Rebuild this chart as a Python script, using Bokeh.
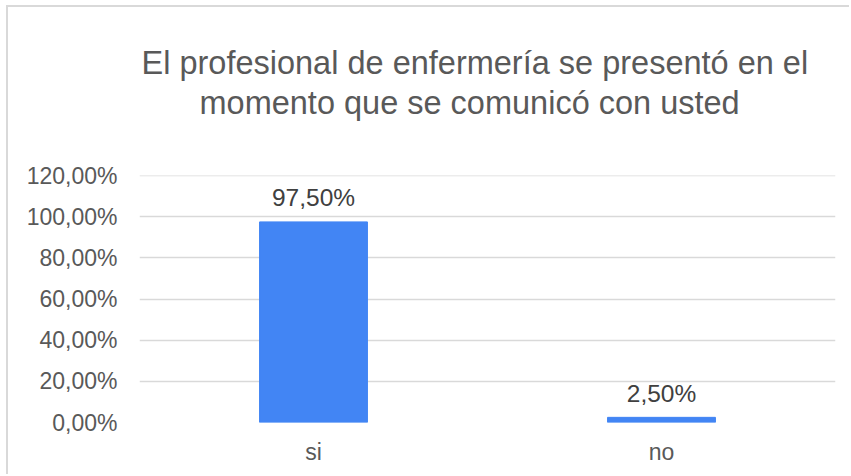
from bokeh.plotting import figure
from bokeh.models import ColumnDataSource, FixedTicker, CustomJSTickFormatter, FactorRange, Range1d, Title
from bokeh.core.properties import value
from bokeh.embed import file_html
from bokeh.resources import INLINE

categories = ["si", "no"]
values = [0.975, 0.025]
labels = [f"{v*100:.2f}".replace(".", ",") + "%" for v in values]
y_ticks = [0, 0.2, 0.4, 0.6, 0.8, 1.0, 1.2]
title_line1 = "El profesional de enfermería se presentó en el"
title_line2 = "momento que se comunicó con usted"

FONT = "Liberation Sans"

src = ColumnDataSource(dict(cat=categories, val=values, lab=labels))

def style_title(t, offset):
    t.align = "left"
    t.text_font = FONT
    t.text_font_size = "32.5px"
    t.text_font_style = "normal"
    t.text_color = "#595959"
    t.offset = offset

p = figure(x_range=FactorRange(*categories, range_padding=0), y_range=Range1d(0, 1.2005),
           width=843, height=469, output_backend="svg", toolbar_location=None,
           title=title_line1,
           min_border_left=131, min_border_right=16, min_border_top=168, min_border_bottom=54)
p.styles = {"border-left": "2px solid #d9d9d9", "border-top": "2px solid #d9d9d9",
            "margin-left": "6px", "margin-top": "5px"}

p.vbar(x="cat", top="val", width=0.31, source=src, color="#4285f4")
p.text(x="cat", y="val", text="lab", source=src, text_align="center", text_baseline="alphabetic",
       y_offset=-24, text_font=value(FONT), text_font_size="24.5px", text_color="#404040")

# line 1 (the figure's own title) is stacked outermost; a negative standoff pulls it down next to line 2
style_title(p.title, 2)
p.title.standoff = -107

# line 2 sits closest to the frame
t2 = Title(text=title_line2)
style_title(t2, 60)
t2.standoff = 110
p.add_layout(t2, "above")

p.outline_line_color = None
p.xgrid.grid_line_color = None
p.ygrid.grid_line_color = "#d9d9d9"
p.ygrid.grid_line_width = 1.5

p.yaxis.ticker = FixedTicker(ticks=y_ticks)
p.yaxis.formatter = CustomJSTickFormatter(code="return (tick*100).toFixed(2).replace('.', ',') + '%';")
for ax in (p.xaxis, p.yaxis):
    ax.axis_line_color = None
    ax.major_tick_line_color = None
    ax.minor_tick_line_color = None
    ax.major_tick_out = 0
    ax.major_tick_in = 0
    ax.major_label_text_font = FONT
    ax.major_label_text_font_size = "23px"
    ax.major_label_text_color = "#595959"
p.yaxis.major_label_standoff = 22
p.xaxis.major_label_standoff = 16

open("out.html", "w").write(file_html(p, INLINE))
